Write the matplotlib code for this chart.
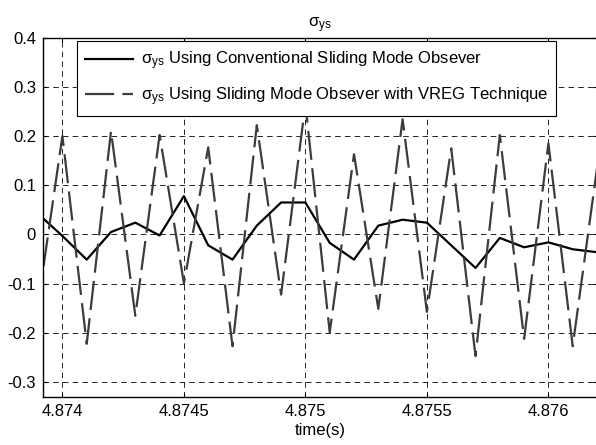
"""
sigma_ys: conventional SMO vs SMO with VREG
"""
import numpy as np
import matplotlib
matplotlib.use("Agg")
import matplotlib.pyplot as plt

plt.rcParams['font.family'] = ['Liberation Sans', 'DejaVu Sans']
plt.rcParams['mathtext.fontset'] = 'custom'
plt.rcParams['mathtext.rm'] = 'Liberation Sans'
plt.rcParams['mathtext.it'] = 'Liberation Sans'
plt.rcParams['axes.unicode_minus'] = False
plt.rcParams['lines.scale_dashes'] = False

# sample times (s), step 0.0001
t = np.round(np.arange(4.8739, 4.87625, 0.0001), 4)

# conventional sliding mode observer
sigma_conv = [0.042, -0.003, -0.051, 0.005, 0.024, -0.002, 0.078, -0.022,
              -0.051, 0.018, 0.065, 0.065, -0.017, -0.051, 0.018, 0.030,
              0.024, -0.022, -0.068, -0.007, -0.026, -0.016, -0.030, -0.036]

# sliding mode observer with VREG technique
sigma_vreg = [-0.14, 0.200, -0.222, 0.210, -0.165, 0.202, -0.099, 0.177,
              -0.227, 0.222, -0.122, 0.265, -0.199, 0.163, -0.151, 0.234,
              -0.157, 0.175, -0.247, 0.202, -0.212, 0.185, -0.227, 0.135]

xticks = [4.874, 4.8745, 4.875, 4.8755, 4.876]
xticklabels = ['4.874', '4.8745', '4.875', '4.8755', '4.876']
yticks = [-0.3, -0.2, -0.1, 0, 0.1, 0.2, 0.3, 0.4]
yticklabels = ['-0.3', '-0.2', '-0.1', '0', '0.1', '0.2', '0.3', '0.4']

fig = plt.figure(figsize=(5.96, 4.45), dpi=100)
ax = fig.add_axes([0.0721, 0.1079, 0.9296, 0.8078])

ax.plot(t, sigma_conv, color='k', lw=1.6,
        label=r'$\mathrm{\sigma_{ys}}$ Using Conventional Sliding Mode Obsever')
ax.plot(t, sigma_vreg, color='#3c3c3c', lw=1.6, linestyle=(0, (21, 6)),
        label=r'$\mathrm{\sigma_{ys}}$ Using Sliding Mode Obsever with VREG Technique')

ax.set_xlim(4.87392, 4.8762)
ax.set_ylim(-0.33, 0.4)
ax.set_xticks(xticks)
ax.set_xticklabels(xticklabels)
ax.set_yticks(yticks)
ax.set_yticklabels(yticklabels)
ax.tick_params(direction='in', length=3, width=0.8, top=True, right=True,
               labelsize=12, pad=5)
ax.grid(True, color='k', lw=0.6, linestyle=(0, (4, 3)))
for s in ax.spines.values():
    s.set_linewidth(1.0)

ax.set_title(r'$\mathrm{\sigma_{ys}}$', fontsize=12, pad=7)
ax.set_xlabel('time(s)', fontsize=12, labelpad=3)

leg = ax.legend(loc='upper left', bbox_to_anchor=(0.0608, 0.990),
                borderaxespad=0, fancybox=False, framealpha=1,
                edgecolor='k', fontsize=12, handlelength=2.9,
                handletextpad=0.45, labelspacing=0.8, borderpad=0.5)
leg.get_frame().set_linewidth(0.8)

plt.savefig("out.png", dpi=100)
